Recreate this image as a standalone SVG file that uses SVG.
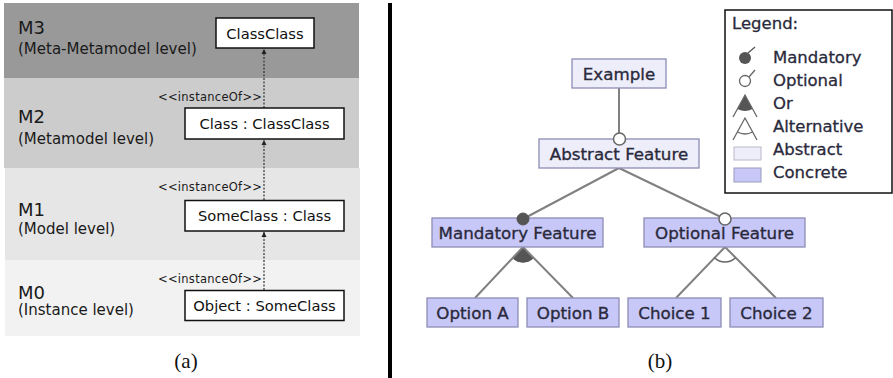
<svg xmlns="http://www.w3.org/2000/svg" width="893" height="378" viewBox="0 0 893 378">
  <style>
    .lvl { font-family: "DejaVu Sans", sans-serif; fill: #1a1a1a; }
    .lvl-name { font-size: 18px; }
    .lvl-sub { font-size: 15px; }
    .cls rect { fill: #ffffff; stroke: #111111; stroke-width: 1.5; }
    .cls text { font-family: "DejaVu Sans", sans-serif; font-size: 14.7px; fill: #111111; text-anchor: middle; }
    .stereo { font-family: "DejaVu Sans", sans-serif; font-size: 11.5px; fill: #1a1a1a; text-anchor: end; }
    .dep { stroke: #333333; stroke-width: 1.2; stroke-dasharray: 2 1.5; fill: none; }
    .feat rect { stroke: #8c8cb4; stroke-width: 1.3; }
    .feat.abstract rect { fill: #eeeefb; }
    .feat.concrete rect { fill: #c8c8f8; }
    .feat text { font-family: "DejaVu Sans", sans-serif; font-size: 16.7px; fill: #2a2a3c; stroke: #2a2a3c; stroke-width: 0.35; text-anchor: middle; }
    .edge { stroke: #808080; stroke-width: 2; fill: none; }
    .mand { fill: #555555; stroke: #555555; stroke-width: 1; }
    .opt { fill: #ffffff; stroke: #666666; stroke-width: 1.5; }
    .legend-text { font-family: "DejaVu Sans", sans-serif; font-size: 16.5px; fill: #2a2a3c; stroke: #2a2a3c; stroke-width: 0.3; }
    .caption { font-family: "Liberation Serif", serif; font-size: 21px; fill: #111111; text-anchor: middle; }
  </style>
  <defs>
    <marker id="tip" markerWidth="6" markerHeight="6" refX="5" refY="3" orient="auto" markerUnits="userSpaceOnUse">
      <path d="M0,0.5 L5,3 L0,5.5 Z" fill="#222222"/>
    </marker>
  </defs>

  <rect x="0" y="0" width="893" height="378" fill="#ffffff"/>

  <!-- (a) metamodel levels -->
  <g id="levels">
    <rect x="4" y="3" width="355" height="75" fill="#999999"/>
    <rect x="4" y="78" width="355" height="90" fill="#cccccc"/>
    <rect x="5" y="168" width="355" height="92" fill="#e6e6e6"/>
    <rect x="5" y="260" width="355" height="76" fill="#f2f2f2"/>
    <text class="lvl lvl-name" x="18" y="34">M3</text>
    <text class="lvl lvl-sub" x="18" y="54">(Meta-Metamodel level)</text>
    <text class="lvl lvl-name" x="18" y="123">M2</text>
    <text class="lvl lvl-sub" x="18" y="144">(Metamodel level)</text>
    <text class="lvl lvl-name" x="18" y="216">M1</text>
    <text class="lvl lvl-sub" x="18" y="234">(Model level)</text>
    <text class="lvl lvl-name" x="18" y="299">M0</text>
    <text class="lvl lvl-sub" x="18" y="315">(Instance level)</text>
  </g>

  <g id="deps">
    <line class="dep" x1="264" y1="108" x2="264" y2="49" marker-end="url(#tip)"/>
    <line class="dep" x1="264" y1="200" x2="264" y2="140" marker-end="url(#tip)"/>
    <line class="dep" x1="264" y1="290" x2="264" y2="232" marker-end="url(#tip)"/>
    <text class="stereo" x="262" y="101" textLength="104">&lt;&lt;instanceOf&gt;&gt;</text>
    <text class="stereo" x="262" y="191" textLength="104">&lt;&lt;instanceOf&gt;&gt;</text>
    <text class="stereo" x="262" y="283" textLength="104">&lt;&lt;instanceOf&gt;&gt;</text>
  </g>

  <g id="classclass" class="cls">
    <rect x="216" y="18" width="98" height="30"/>
    <text x="265" y="38.5">ClassClass</text>
  </g>
  <g id="class" class="cls">
    <rect x="185" y="108" width="159" height="31"/>
    <text x="264.5" y="129">Class : ClassClass</text>
  </g>
  <g id="someclass" class="cls">
    <rect x="185" y="200.5" width="159" height="30.5"/>
    <text x="264.5" y="221">SomeClass : Class</text>
  </g>
  <g id="object" class="cls">
    <rect x="185" y="290.5" width="159" height="30"/>
    <text x="264.5" y="311">Object : SomeClass</text>
  </g>

  <text class="caption" x="186" y="368">(a)</text>

  <!-- divider -->
  <rect x="388" y="3" width="4" height="375" fill="#000000"/>

  <!-- (b) feature model -->
  <g id="edges">
    <line class="edge" x1="619" y1="88" x2="619" y2="139"/>
    <line class="edge" x1="619" y1="168" x2="523" y2="219"/>
    <line class="edge" x1="619" y1="168" x2="725" y2="219"/>
    <path class="mand" d="M523,247 L512.5,258 A15,15 0 0 0 533.5,258 Z"/>
    <line class="edge" x1="523" y1="247" x2="475" y2="298"/>
    <line class="edge" x1="523" y1="247" x2="573" y2="298"/>
    <line class="edge" x1="725" y1="247" x2="676" y2="298"/>
    <line class="edge" x1="725" y1="247" x2="776" y2="298"/>
    <path d="M714.5,257.7 A15,15 0 0 0 735.5,257.7" fill="none" stroke="#666666" stroke-width="1.5"/>
  </g>

  <g id="example" class="feat abstract">
    <rect x="572" y="59" width="94" height="29"/>
    <text x="619" y="79.5">Example</text>
  </g>
  <g id="abstract-feature" class="feat abstract">
    <rect x="539" y="139" width="160" height="29"/>
    <text x="619" y="159.5">Abstract Feature</text>
    <circle class="opt" cx="619.5" cy="139" r="6"/>
  </g>
  <g id="mandatory-feature" class="feat concrete">
    <rect x="432" y="218" width="171" height="29"/>
    <text x="517.5" y="238.5">Mandatory Feature</text>
    <circle class="mand" cx="523" cy="219" r="6"/>
  </g>
  <g id="optional-feature" class="feat concrete">
    <rect x="644" y="218" width="161" height="29"/>
    <text x="724.5" y="238.5">Optional Feature</text>
    <circle class="opt" cx="725" cy="219" r="6"/>
  </g>
  <g id="option-a" class="feat concrete">
    <rect x="427" y="298" width="91" height="29"/>
    <text x="472.5" y="318.5">Option A</text>
  </g>
  <g id="option-b" class="feat concrete">
    <rect x="527" y="298" width="92" height="29"/>
    <text x="573" y="318.5">Option B</text>
  </g>
  <g id="choice-1" class="feat concrete">
    <rect x="628" y="298" width="93" height="29"/>
    <text x="674.5" y="318.5">Choice 1</text>
  </g>
  <g id="choice-2" class="feat concrete">
    <rect x="730" y="298" width="93" height="29"/>
    <text x="776.5" y="318.5">Choice 2</text>
  </g>

  <g id="legend">
    <rect x="725" y="10" width="167" height="183" fill="#ffffff" stroke="#111111" stroke-width="1.5"/>
    <text class="legend-text" x="732" y="29">Legend:</text>
    <circle cx="745" cy="58" r="6" fill="#555555"/>
    <line x1="748" y1="53" x2="755" y2="47" stroke="#555555" stroke-width="1.3"/>
    <text class="legend-text" x="773" y="63">Mandatory</text>
    <circle cx="745" cy="81" r="5.5" fill="#ffffff" stroke="#666666" stroke-width="1.3"/>
    <line x1="749" y1="77" x2="755" y2="70" stroke="#666666" stroke-width="1.3"/>
    <text class="legend-text" x="773" y="86">Optional</text>
    <path d="M745,95 L737.5,109 A16,16 0 0 0 752.5,109 Z" fill="#555555"/>
    <path d="M733,117 L745,95 L757,117" fill="none" stroke="#666666" stroke-width="1.3"/>
    <text class="legend-text" x="773" y="109">Or</text>
    <path d="M733,140 L745,118 L757,140" fill="none" stroke="#666666" stroke-width="1.3"/>
    <path d="M737.5,132 A16,16 0 0 0 752.5,132" fill="none" stroke="#666666" stroke-width="1.3"/>
    <text class="legend-text" x="773" y="132">Alternative</text>
    <rect x="734" y="147" width="27" height="13" fill="#eeeefb" stroke="#b8b8c8" stroke-width="1"/>
    <text class="legend-text" x="773" y="155">Abstract</text>
    <rect x="734" y="168" width="27" height="14" fill="#c8c8f8" stroke="#9a9ac0" stroke-width="1"/>
    <text class="legend-text" x="773" y="178">Concrete</text>
  </g>

  <text class="caption" x="660" y="368">(b)</text>
</svg>
